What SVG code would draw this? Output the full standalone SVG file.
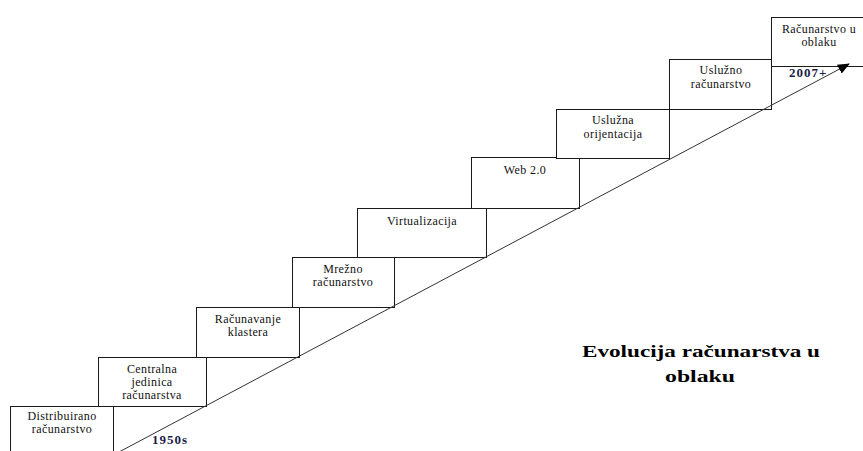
<svg xmlns="http://www.w3.org/2000/svg" width="863" height="451" viewBox="0 0 863 451">
<style>
.box{fill:#fff;stroke:#1a1a1a;stroke-width:1}
.t{font-family:"Liberation Serif","DejaVu Serif","Noto Serif",serif;font-size:12px;letter-spacing:0.4px;fill:#111;text-anchor:middle}
.yr{font-family:"Liberation Serif","DejaVu Serif","Noto Serif",serif;font-size:13px;font-weight:bold;letter-spacing:1px;fill:#1c1c48}
.title{font-family:"Liberation Serif","DejaVu Serif","Noto Serif",serif;font-size:16px;font-weight:bold;fill:#000}
</style>
<defs>
<marker id="ah" viewBox="0 0 12 10" refX="11" refY="5" markerWidth="12" markerHeight="10" markerUnits="userSpaceOnUse" orient="auto">
<path d="M0,0 L12,5 L0,10 z" fill="#000"/>
</marker>
</defs>
<g id="n1"><rect class="box" x="10.5" y="406.5" width="103" height="50"/><text class="t" x="62" y="420">Distribuirano</text><text class="t" x="62" y="433">računarstvo</text></g>
<g id="n2"><rect class="box" x="98.5" y="357.5" width="108" height="49"/><text class="t" x="152" y="373">Centralna</text><text class="t" x="152" y="386">jedinica</text><text class="t" x="152" y="399">računarstva</text></g>
<g id="n3"><rect class="box" x="196.5" y="307.5" width="103" height="50"/><text class="t" x="248" y="323">Računavanje</text><text class="t" x="248" y="336">klastera</text></g>
<g id="n4"><rect class="box" x="292.5" y="257.5" width="102" height="50"/><text class="t" x="343" y="273">Mrežno</text><text class="t" x="343" y="286">računarstvo</text></g>
<g id="n5"><rect class="box" x="357.5" y="208.5" width="129" height="49"/><text class="t" x="422" y="225">Virtualizacija</text></g>
<g id="n6"><rect class="box" x="471.5" y="157.5" width="108" height="51"/><text class="t" x="525" y="174">Web 2.0</text></g>
<g id="n7"><rect class="box" x="556.5" y="109.5" width="113" height="49"/><text class="t" x="613" y="124">Uslužna</text><text class="t" x="613" y="138">orijentacija</text></g>
<g id="n8"><rect class="box" x="669.5" y="59.5" width="102" height="50"/><text class="t" x="721" y="74">Uslužno</text><text class="t" x="721" y="88">računarstvo</text></g>
<g id="n9"><rect class="box" x="771.5" y="17.5" width="100" height="49"/><text class="t" x="819" y="33">Računarstvo u</text><text class="t" x="819" y="46">oblaku</text></g>
<g id="connectors">
<line x1="119" y1="452" x2="849" y2="64" stroke="#333" stroke-width="1" marker-end="url(#ah)"/>
</g>
<text class="yr" x="152" y="444">1950s</text>
<text class="yr" x="789" y="77">2007+</text>
<text class="title" x="582" y="357" textLength="238" lengthAdjust="spacingAndGlyphs">Evolucija računarstva u</text>
<text class="title" x="665" y="382" textLength="70" lengthAdjust="spacingAndGlyphs">oblaku</text>
</svg>
